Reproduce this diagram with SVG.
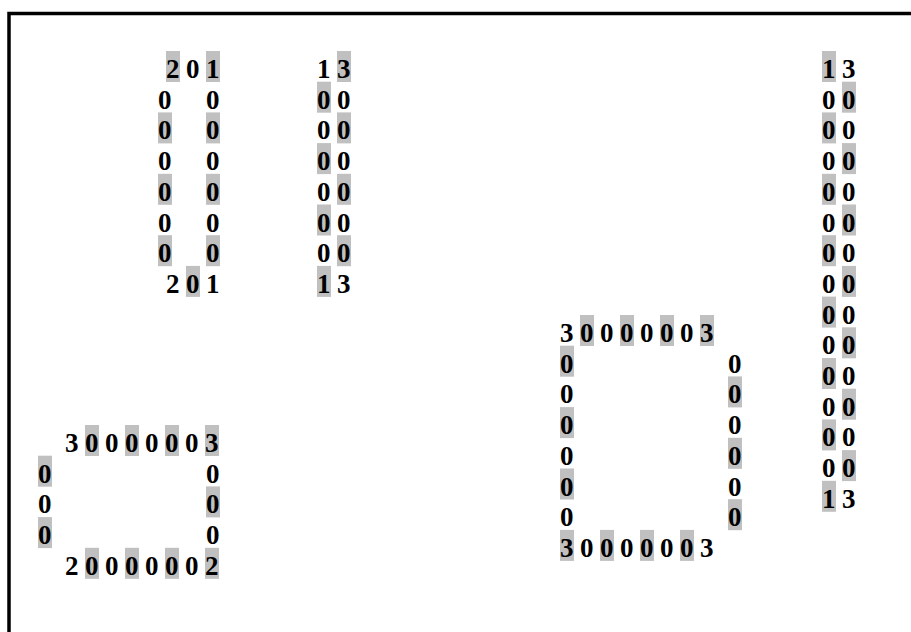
<svg xmlns="http://www.w3.org/2000/svg" width="911" height="632" viewBox="0 0 911 632">
<style>
.t{font-family:"Liberation Serif","Times New Roman",serif;font-weight:bold;font-size:27px;fill:#000}
.h{fill:#c0c0c0}
</style>
<defs>
<rect id="hl" width="14" height="31" class="h"/>
</defs>
<rect width="911" height="632" fill="#fff"/>
<path d="M9,640 V13.5 H920" fill="none" stroke="#000" stroke-width="3.5"/>

<g id="blockA">
<use href="#hl" x="166" y="51"/><use href="#hl" x="206" y="51"/>
<use href="#hl" x="158" y="112.4"/><use href="#hl" x="206" y="112.4"/>
<use href="#hl" x="158" y="173.8"/><use href="#hl" x="206" y="173.8"/>
<use href="#hl" x="158" y="235.2"/><use href="#hl" x="206" y="235.2"/>
<use href="#hl" x="186" y="265.9"/>
<text class="t" x="166 186 206" y="78">201</text>
<text class="t" x="158 206" y="108.7">00</text>
<text class="t" x="158 206" y="139.4">00</text>
<text class="t" x="158 206" y="170.1">00</text>
<text class="t" x="158 206" y="200.8">00</text>
<text class="t" x="158 206" y="231.5">00</text>
<text class="t" x="158 206" y="262.2">00</text>
<text class="t" x="166 186 206" y="292.9">201</text>
</g>

<g id="blockB">
<use href="#hl" x="337" y="51"/>
<use href="#hl" x="317" y="81.7"/>
<use href="#hl" x="337" y="112.4"/>
<use href="#hl" x="317" y="143.1"/>
<use href="#hl" x="337" y="173.8"/>
<use href="#hl" x="317" y="204.5"/>
<use href="#hl" x="337" y="235.2"/>
<use href="#hl" x="317" y="265.9"/>
<text class="t" x="317 337" y="78">13</text>
<text class="t" x="317 337" y="108.7">00</text>
<text class="t" x="317 337" y="139.4">00</text>
<text class="t" x="317 337" y="170.1">00</text>
<text class="t" x="317 337" y="200.8">00</text>
<text class="t" x="317 337" y="231.5">00</text>
<text class="t" x="317 337" y="262.2">00</text>
<text class="t" x="317 337" y="292.9">13</text>
</g>

<g id="blockC">
<use href="#hl" x="822" y="51"/>
<use href="#hl" x="842" y="81.7"/>
<use href="#hl" x="822" y="112.4"/>
<use href="#hl" x="842" y="143.1"/>
<use href="#hl" x="822" y="173.8"/>
<use href="#hl" x="842" y="204.5"/>
<use href="#hl" x="822" y="235.2"/>
<use href="#hl" x="842" y="265.9"/>
<use href="#hl" x="822" y="296.6"/>
<use href="#hl" x="842" y="327.3"/>
<use href="#hl" x="822" y="358"/>
<use href="#hl" x="842" y="388.7"/>
<use href="#hl" x="822" y="419.4"/>
<use href="#hl" x="842" y="450.1"/>
<use href="#hl" x="822" y="480.8"/>
<text class="t" x="822 842" y="78">13</text>
<text class="t" x="822 842" y="108.7">00</text>
<text class="t" x="822 842" y="139.4">00</text>
<text class="t" x="822 842" y="170.1">00</text>
<text class="t" x="822 842" y="200.8">00</text>
<text class="t" x="822 842" y="231.5">00</text>
<text class="t" x="822 842" y="262.2">00</text>
<text class="t" x="822 842" y="292.9">00</text>
<text class="t" x="822 842" y="323.6">00</text>
<text class="t" x="822 842" y="354.3">00</text>
<text class="t" x="822 842" y="385">00</text>
<text class="t" x="822 842" y="415.7">00</text>
<text class="t" x="822 842" y="446.4">00</text>
<text class="t" x="822 842" y="477.1">00</text>
<text class="t" x="822 842" y="507.8">13</text>
</g>

<g id="blockD">
<use href="#hl" x="580" y="315"/><use href="#hl" x="620" y="315"/><use href="#hl" x="660" y="315"/><use href="#hl" x="700" y="315"/>
<use href="#hl" x="560" y="345.7"/>
<use href="#hl" x="728" y="376.4"/>
<use href="#hl" x="560" y="407.1"/>
<use href="#hl" x="728" y="437.8"/>
<use href="#hl" x="560" y="468.5"/>
<use href="#hl" x="728" y="499.2"/>
<use href="#hl" x="560" y="529.9"/><use href="#hl" x="600" y="529.9"/><use href="#hl" x="640" y="529.9"/><use href="#hl" x="680" y="529.9"/>
<text class="t" x="560 580 600 620 640 660 680 700" y="342">30000003</text>
<text class="t" x="560 728" y="372.7">00</text>
<text class="t" x="560 728" y="403.4">00</text>
<text class="t" x="560 728" y="434.1">00</text>
<text class="t" x="560 728" y="464.8">00</text>
<text class="t" x="560 728" y="495.5">00</text>
<text class="t" x="560 728" y="526.2">00</text>
<text class="t" x="560 580 600 620 640 660 680 700" y="556.9">30000003</text>
</g>

<g id="blockE">
<use href="#hl" x="85" y="425"/><use href="#hl" x="125" y="425"/><use href="#hl" x="165" y="425"/><use href="#hl" x="205" y="425"/>
<use href="#hl" x="38" y="455.7"/>
<use href="#hl" x="206" y="486.4"/>
<use href="#hl" x="38" y="517.1"/>
<use href="#hl" x="85" y="547.8"/><use href="#hl" x="125" y="547.8"/><use href="#hl" x="165" y="547.8"/><use href="#hl" x="205" y="547.8"/>
<text class="t" x="65 85 105 125 145 165 185 205" y="452">30000003</text>
<text class="t" x="38 206" y="482.7">00</text>
<text class="t" x="38 206" y="513.4">00</text>
<text class="t" x="38 206" y="544.1">00</text>
<text class="t" x="65 85 105 125 145 165 185 205" y="574.8">20000002</text>
</g>
</svg>
